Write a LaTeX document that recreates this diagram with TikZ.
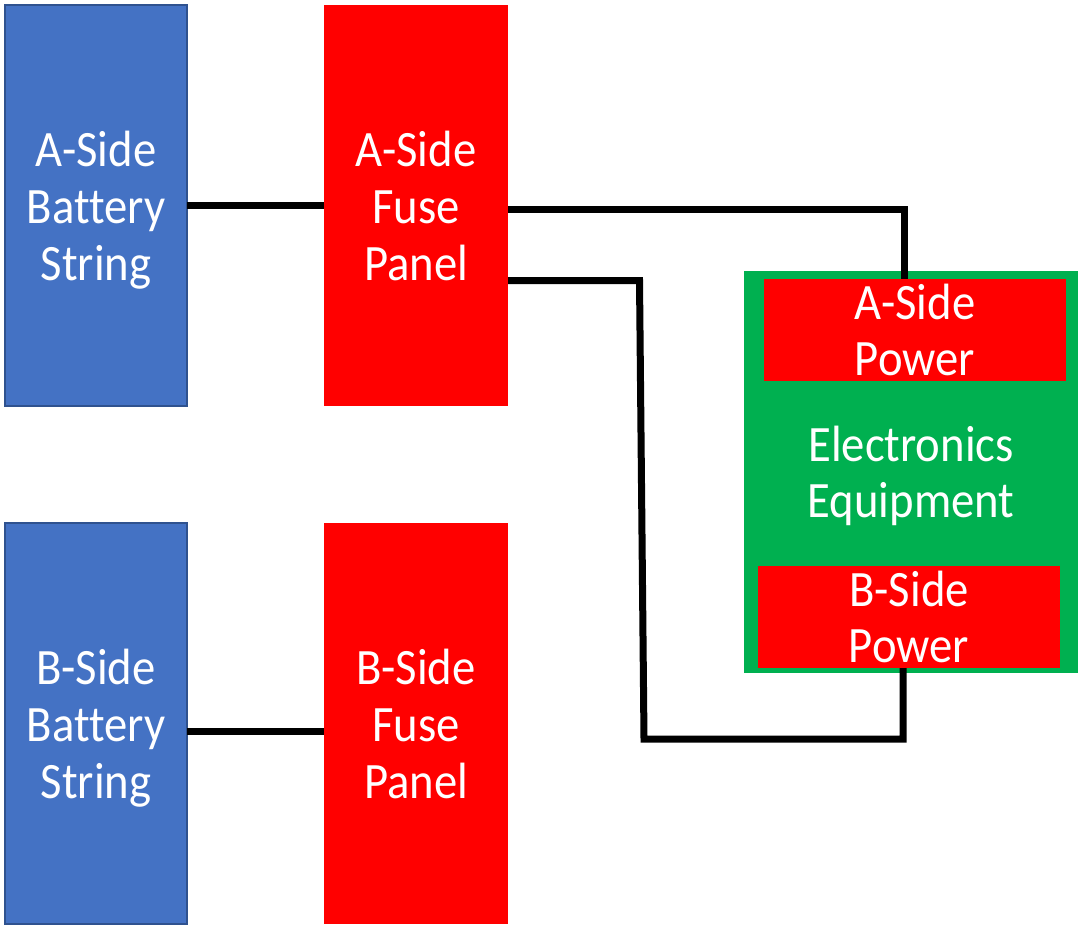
\documentclass[tikz,border=0pt]{standalone}
\usepackage{fontspec}
\setmainfont{Carlito}[FakeStretch=0.915, Ligatures=NoCommon]
\definecolor{batblue}{HTML}{4472C4}
\definecolor{batedge}{HTML}{2F528F}
\definecolor{fusered}{HTML}{FF0000}
\definecolor{eqgreen}{HTML}{00B050}
\begin{document}
\begin{tikzpicture}[x=1pt,y=-1pt,
  box/.style={rectangle, anchor=north west, inner sep=0pt, outer sep=0pt, text=white, align=center,
    font=\fontsize{51}{57}\selectfont},
  battery/.style={box, fill=batblue, draw=batedge, line width=1.5pt, minimum width=182pt, minimum height=401pt},
  fuse/.style={box, fill=fusered, minimum width=184pt, minimum height=401pt},
  equip/.style={box, fill=eqgreen, minimum width=334pt, minimum height=402pt},
  psu/.style={box, fill=fusered, minimum width=302pt, minimum height=102pt, font=\fontsize{51}{56}\selectfont},
  wire/.style={draw=black, line width=7pt, line join=miter}]
\useasboundingbox (0,0) rectangle (1078,927);
\fill[white] (0,0) rectangle (1078,927);

\node[battery] (abat) at (5,5) {A-Side\\Battery\\\smash{String}};
\node[fuse] (afuse) at (324,5) {A-Side\\Fuse\\Panel};
\node[battery] (bbat) at (5,523) {B-Side\\Battery\\\smash{String}};
\node[fuse] (bfuse) at (324,523) {B-Side\\Fuse\\Panel};

\node[equip] (equip) at (744,271) {};
\node[box, anchor=center, font=\fontsize{51}{56}\selectfont] (eqlabel) at (equip.center) {Electronics\\\smash{Equipment}};
\node[psu] (apow) at (764,279) {A-Side\\Power};
\node[psu] (bpow) at (758,566) {B-Side\\Power};

\coordinate (a1) at (508,209.5);
\coordinate (a2) at (904,209.5);
\coordinate (a3) at (904,279);
\coordinate (b1) at (508,280.5);
\coordinate (b2) at (639.5,280.5);
\coordinate (b3) at (644,739);
\coordinate (b4) at (903,739);
\coordinate (b5) at (903,668);
\coordinate (bl) at (187,731);

\draw[wire] (abat.east) -- (afuse.west);
\draw[wire] (bl) -- (bfuse.west |- bl);
\draw[wire] (a1) -- (a2) -- (a3);
\draw[wire] (b1) -- (b2) -- (b3) -- (b4) -- (b5);
\end{tikzpicture}
\end{document}
